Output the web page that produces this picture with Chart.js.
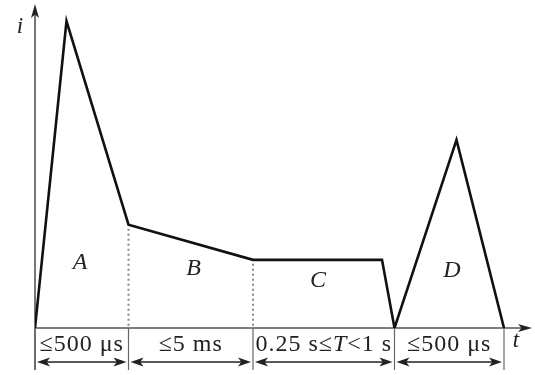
<!DOCTYPE html>
<html>
<head>
<meta charset="utf-8">
<script src="https://cdn.jsdelivr.net/npm/chart.js@4/dist/chart.umd.min.js"></script>
<style>
  html, body { margin: 0; padding: 0; background: #fff; }
  #wrap { width: 535px; height: 375px; }
</style>
</head>
<body>
<div id="wrap"><canvas id="wave"></canvas></div>
<script>
// waveform corners (time in arbitrary units, current in % of peak)
const waveT = [0, 6.3, 18.7, 43.6, 69.4, 71.9, 84.3, 93.8];
const waveI = [0, 95.9, 32.3, 21.3, 21.3, 0, 58.8, 0];

// duration brackets under the axis
const spanEdges = [0, 18.7, 43.6, 71.9, 93.8];
const spanLabels = ['≤500 μs', '≤5 ms', '0.25 s≤T<1 s', '≤500 μs'];

// dotted drop lines from the curve to the axis
const dropT = [18.7, 43.6];
const dropI = [32.3, 21.3];

// component names and where they sit
const partNames = ['A', 'B', 'C', 'D'];
const partT = [9.0, 31.7, 56.6, 83.4];
const partI = [20.4, 18.4, 14.8, 17.8];

const serif = '"Liberation Serif", "DejaVu Serif", serif';

function arrowHead(c, x, y, dir, len, half) {
  // dir: 1 right, -1 left, 'up'
  c.beginPath();
  if (dir === 'up') {
    c.moveTo(x, y);
    c.lineTo(x - half, y + len);
    c.lineTo(x, y + len * 0.75);
    c.lineTo(x + half, y + len);
  } else {
    c.moveTo(x, y);
    c.lineTo(x - dir * len, y - half);
    c.lineTo(x - dir * len * 0.75, y);
    c.lineTo(x - dir * len, y + half);
  }
  c.closePath();
  c.fill();
}

function mixedText(c, str, cx, cy, size) {
  const parts = str.split(/(T)/).filter(s => s.length);
  const fontFor = p => (p === 'T' ? 'italic ' : '') + size + 'px ' + serif;
  c.letterSpacing = '1px';
  let total = 0;
  parts.forEach(p => { c.font = fontFor(p); total += c.measureText(p).width; });
  let x = cx - total / 2;
  c.textAlign = 'left';
  c.textBaseline = 'middle';
  parts.forEach(p => {
    c.font = fontFor(p);
    c.fillText(p, x, cy);
    x += c.measureText(p).width;
  });
  c.letterSpacing = '0px';
}

const sketch = {
  id: 'sketch',
  beforeDatasetsDraw(chart) {
    const c = chart.ctx, xs = chart.scales.x, ys = chart.scales.y;
    const x0 = xs.getPixelForValue(0), y0 = ys.getPixelForValue(0);
    c.save();
    // axes
    c.strokeStyle = '#555';
    c.fillStyle = '#222';
    c.lineWidth = 1.6;
    c.beginPath();
    c.moveTo(x0, 370); c.lineTo(x0, 10);
    c.moveTo(x0, y0); c.lineTo(chart.chartArea.right - 4, y0);
    c.stroke();
    arrowHead(c, x0, 4, 'up', 14, 4);
    arrowHead(c, chart.chartArea.right + 2, y0, 1, 14, 4);
    // dotted drops
    c.strokeStyle = '#888';
    c.lineWidth = 2;
    c.setLineDash([2, 3]);
    dropT.forEach((t, k) => {
      const px = xs.getPixelForValue(t);
      c.beginPath();
      c.moveTo(px, ys.getPixelForValue(dropI[k]) + 4);
      c.lineTo(px, y0);
      c.stroke();
    });
    c.setLineDash([]);
    // extension lines
    c.strokeStyle = '#666';
    c.lineWidth = 1.2;
    spanEdges.forEach(t => {
      const px = xs.getPixelForValue(t);
      c.beginPath();
      c.moveTo(px, y0); c.lineTo(px, 370);
      c.stroke();
    });
    // bracket arrows and labels
    const ay = 362;
    c.strokeStyle = '#222';
    c.fillStyle = '#222';
    c.lineWidth = 1.4;
    for (let k = 0; k < spanLabels.length; k++) {
      const a = xs.getPixelForValue(spanEdges[k]) + 2;
      const b = xs.getPixelForValue(spanEdges[k + 1]) - 2;
      c.beginPath();
      c.moveTo(a + 6, ay); c.lineTo(b - 6, ay);
      c.stroke();
      arrowHead(c, a, ay, -1, 13, 4.5);
      arrowHead(c, b, ay, 1, 13, 4.5);
      mixedText(c, spanLabels[k], (a + b) / 2, 345, 24);
    }
    c.restore();
  },
  afterDatasetsDraw(chart) {
    const c = chart.ctx, xs = chart.scales.x, ys = chart.scales.y;
    c.save();
    c.fillStyle = '#222';
    c.textAlign = 'center';
    c.textBaseline = 'middle';
    c.font = 'italic 24px ' + serif;
    partNames.forEach((n, k) => {
      c.fillText(n, xs.getPixelForValue(partT[k]), ys.getPixelForValue(partI[k]));
    });
    c.font = 'italic 23px ' + serif;
    c.fillText('i', 20, 27);
    c.fillText('t', 516, 341);
    c.restore();
  }
};

new Chart(document.getElementById('wave'), {
  type: 'scatter',
  data: {
    datasets: [{
      label: 'i(t)',
      data: waveT.map((t, k) => ({ x: t, y: waveI[k] })),
      showLine: true,
      borderColor: '#111',
      borderWidth: 2.6,
      borderJoinStyle: 'miter',
      pointRadius: 0,
      tension: 0
    }]
  },
  options: {
    responsive: true,
    maintainAspectRatio: false,
    animation: false,
    layout: { padding: { left: 35, right: 5, top: 8, bottom: 47 } },
    plugins: { legend: { display: false }, tooltip: { enabled: false } },
    scales: {
      x: { type: 'linear', min: 0, max: 99, display: false },
      y: { type: 'linear', min: 0, max: 100, display: false }
    }
  },
  plugins: [sketch]
});
</script>
</body>
</html>
